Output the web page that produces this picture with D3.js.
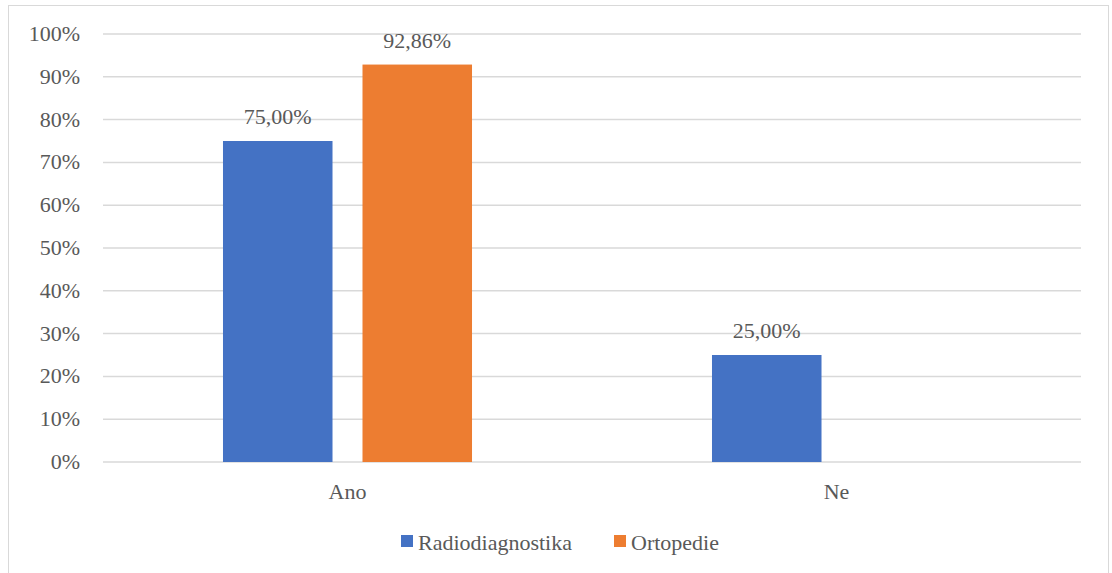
<!DOCTYPE html>
<html>
<head>
<meta charset="utf-8">
<script src="https://cdn.jsdelivr.net/npm/d3@7"></script>
<style>
  body { margin: 0; background: #fff; }
  #chart svg text { font-family: "Liberation Serif", "Times New Roman", serif !important; }
</style>
</head>
<body>
<div id="chart"></div>
<script>
var categories = ["Ano", "Ne"];
var seriesNames = ["Radiodiagnostika", "Ortopedie"];
var seriesColors = ["#4472C4", "#ED7D31"];
var radiodiagnostika = [75.00, 25.00];
var ortopedie = [92.86, null];
var yTicks = [0, 10, 20, 30, 40, 50, 60, 70, 80, 90, 100];

var width = 1112, height = 573;
var margin = {left: 103, right: 31, top: 34, bottom: 111};

var svg = d3.select("#chart").append("svg")
  .attr("width", width)
  .attr("height", height);

// chart border
svg.append("rect")
  .attr("x", 8.5).attr("y", 5.5)
  .attr("width", 1100).attr("height", 580)
  .attr("fill", "none")
  .attr("stroke", "#d9d9d9");

var x0 = d3.scaleBand().domain(categories)
  .range([margin.left, width - margin.right])
  .paddingInner(0).paddingOuter(0);

var x1 = d3.scaleBand().domain(seriesNames)
  .range([0, x0.bandwidth()])
  .paddingInner(0.215).paddingOuter(0.86);

var y = d3.scaleLinear().domain([0, 100])
  .range([height - margin.bottom, margin.top]);

// gridlines
svg.append("g").selectAll("line")
  .data(yTicks)
  .enter().append("line")
  .attr("x1", margin.left).attr("x2", width - margin.right)
  .attr("y1", function(d){ return y(d); })
  .attr("y2", function(d){ return y(d); })
  .attr("stroke", "#d9d9d9")
  .attr("stroke-width", 1.5);

function txt(sel){
  return sel.attr("font-family", "Liberation Serif")
    .style("font-family", "'Liberation Serif', 'Times New Roman', serif", "important")
    .attr("font-size", 22)
    .attr("fill", "#595959");
}

// y labels
txt(svg.append("g").selectAll("text")
  .data(yTicks)
  .enter().append("text"))
  .attr("x", 80)
  .attr("y", function(d){ return y(d) + 7; })
  .attr("text-anchor", "end")
  .text(function(d){ return d + "%"; });

var rows = [];
categories.forEach(function(c, i){
  rows.push({cat: c, s: 0, v: radiodiagnostika[i]});
  rows.push({cat: c, s: 1, v: ortopedie[i]});
});
rows = rows.filter(function(d){ return d.v != null; });

function barX(d){ return x0(d.cat) + x1(seriesNames[d.s]); }

svg.append("g").selectAll("rect")
  .data(rows)
  .enter().append("rect")
  .attr("x", barX)
  .attr("y", function(d){ return y(d.v); })
  .attr("width", x1.bandwidth())
  .attr("height", function(d){ return y(0) - y(d.v); })
  .attr("fill", function(d){ return seriesColors[d.s]; });

txt(svg.append("g").selectAll("text")
  .data(rows)
  .enter().append("text"))
  .attr("x", function(d){ return barX(d) + x1.bandwidth() / 2; })
  .attr("y", function(d){ return y(d.v) - 17; })
  .attr("text-anchor", "middle")
  .text(function(d){ return d.v.toFixed(2).replace(".", ",") + "%"; });

// category labels
txt(svg.append("g").selectAll("text")
  .data(categories)
  .enter().append("text"))
  .attr("x", function(d){ return x0(d) + x0.bandwidth() / 2; })
  .attr("y", 499)
  .attr("text-anchor", "middle")
  .text(function(d){ return d; });

// legend
var legendX = [401, 614];
var legend = svg.append("g").selectAll("g")
  .data(seriesNames)
  .enter().append("g")
  .attr("transform", function(d, i){ return "translate(" + legendX[i] + ",535)"; });
legend.append("rect")
  .attr("width", 12).attr("height", 12)
  .attr("fill", function(d, i){ return seriesColors[i]; });
txt(legend.append("text"))
  .attr("x", 17).attr("y", 15)
  .text(function(d){ return d; });
</script>
</body>
</html>
